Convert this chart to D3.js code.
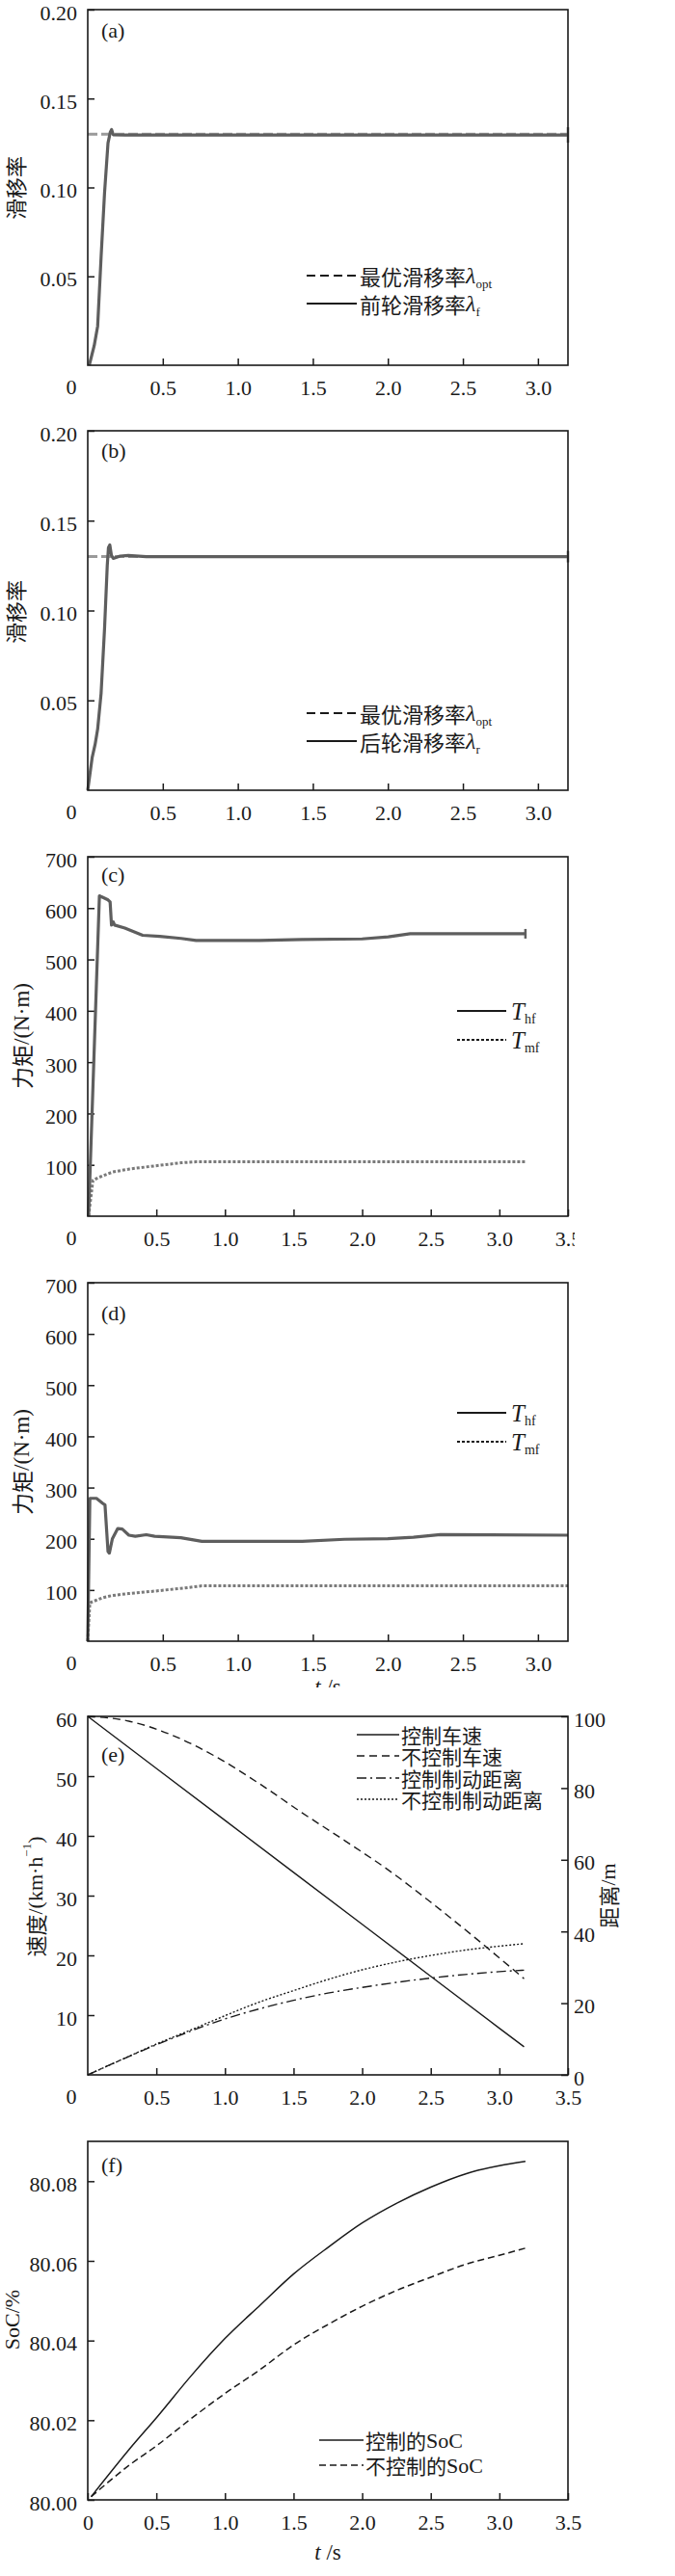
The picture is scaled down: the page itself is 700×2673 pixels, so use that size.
<!DOCTYPE html>
<html><head><meta charset="utf-8">
<script src="https://cdn.jsdelivr.net/npm/d3@7/dist/d3.min.js"></script>
<style>
body{margin:0;background:#fff;}
svg text{font-family:"Liberation Serif","Times New Roman",serif;fill:#1a1a1a;}
.cjk{font-family:"Noto Sans CJK SC","Noto Sans CJK JP",sans-serif;}
</style></head><body>
<svg id="chart" width="700" height="2673"></svg>
<script>
// ---------- data ----------
const optimalSlip = 0.13;
const slipTimeA = [0.01, 0.043, 0.066, 0.089, 0.112, 0.135, 0.150, 0.159, 0.170, 0.25, 0.5, 1.0, 1.5, 2.0, 2.5, 3.0, 3.2];
const slipFront = [0, 0.011, 0.022, 0.061, 0.097, 0.125, 0.131, 0.1326, 0.1296, 0.1295, 0.1295, 0.1295, 0.1295, 0.1295, 0.1295, 0.1295, 0.1295];
const slipTimeB = [0, 0.029, 0.049, 0.066, 0.089, 0.112, 0.13, 0.138, 0.147, 0.158, 0.17, 0.216, 0.27, 0.39, 1.0, 2.0, 3.0, 3.2];
const slipRear = [0, 0.018, 0.0255, 0.034, 0.054, 0.090, 0.125, 0.135, 0.1365, 0.1306, 0.129, 0.1303, 0.1306, 0.1300, 0.130, 0.130, 0.130, 0.130];

const torqueTimeC = [0.006, 0.085, 0.10, 0.148, 0.163, 0.173, 0.186, 0.195, 0.27, 0.40, 0.525, 0.68, 0.79, 1.25, 1.56, 2.0, 2.19, 2.35, 2.82, 3.19];
const hydraulicC = [0, 624, 622, 616, 612, 567, 573, 567, 561, 547, 545, 541, 537, 537, 539, 540, 544, 550, 550, 550];
const motorTimeC = [0.006, 0.038, 0.085, 0.18, 0.305, 0.49, 0.68, 0.79, 1.5, 2.5, 3.19];
const motorC = [0, 70, 76, 86, 92, 98, 104, 106, 106, 106, 106];

const torqueTimeD = [0, 0.014, 0.058, 0.10, 0.115, 0.135, 0.144, 0.164, 0.20, 0.23, 0.274, 0.317, 0.39, 0.446, 0.62, 0.76, 1.43, 1.71, 2.0, 2.17, 2.35, 3.2];
const hydraulicD = [0, 279, 279, 269, 266, 175, 172, 200, 220, 219, 207, 205, 208, 205, 202, 195, 195, 199, 200, 203, 208, 207];
const motorTimeD = [0, 0.014, 0.1, 0.158, 0.27, 0.42, 0.62, 0.76, 1.5, 2.5, 3.2];
const motorD = [0, 75, 85, 89, 93, 97, 103, 108, 108, 108, 108];

const speedTimeC = [0, 0.5, 1.0, 1.5, 2.0, 2.5, 3.0, 3.18];
const speedCtrl = [60, 51.3, 42.6, 33.9, 25.2, 16.5, 7.8, 4.7];
const speedTimeU = [0, 0.3, 0.62, 0.93, 1.25, 1.56, 1.88, 2.19, 2.5, 2.82, 3.18];
const speedUnctrl = [60, 59.2, 56.8, 53.3, 48.75, 43.9, 39.1, 34.3, 28.9, 23.0, 16.1];
const distTime = [0, 0.25, 0.5, 0.75, 1.0, 1.25, 1.5, 1.75, 2.0, 2.25, 2.5, 2.75, 3.0, 3.18];
const distCtrl = [0, 4.3, 8.4, 12.2, 15.6, 18.4, 20.8, 22.8, 24.4, 25.8, 27.0, 28.0, 28.8, 29.2];
const distUnctrl = [0, 4.3, 8.6, 12.5, 16.5, 20.3, 23.5, 26.6, 29.3, 31.5, 33.3, 34.8, 35.9, 36.6];

const socTime = [0.025, 0.31, 0.51, 0.75, 1.0, 1.26, 1.5, 1.76, 2.0, 2.26, 2.5, 2.76, 3.0, 3.19];
const socCtrl = [80.0008, 80.013, 80.021, 80.031, 80.0405, 80.049, 80.0567, 80.0636, 80.0695, 80.0746, 80.0785, 80.0819, 80.0839, 80.0850];
const socUnctrl = [80.0008, 80.0089, 80.0138, 80.0203, 80.0267, 80.0328, 80.0389, 80.0442, 80.0486, 80.0527, 80.0559, 80.0592, 80.0614, 80.0632];

const slipTicksY = [0.05, 0.10, 0.15, 0.20];
const torqueTicksY = [100, 200, 300, 400, 500, 600, 700];
const speedTicksY = [10, 20, 30, 40, 50, 60];
const distTicksY = [0, 20, 40, 60, 80, 100];
const socTicksY = [80.00, 80.02, 80.04, 80.06, 80.08];
const timeTicks32 = [0.5, 1.0, 1.5, 2.0, 2.5, 3.0];
const timeTicks35 = [0.5, 1.0, 1.5, 2.0, 2.5, 3.0, 3.5];
const timeTicksF = [0, 0.5, 1.0, 1.5, 2.0, 2.5, 3.0, 3.5];

// ---------- drawing ----------
const svg = d3.select("#chart");
const L = 91, R = 589;
const INK = "#1a1a1a", CURVE = "#5e5e5e";
const SERIF = '"Liberation Serif","Times New Roman",serif';
const CJK = '"Noto Sans CJK SC","Noto Sans CJK JP",sans-serif';
const defs = svg.append("defs");

function makePanel(o) {
  const g = svg.append("g");
  const bottom = o.top + o.h;
  const x = d3.scaleLinear().domain(o.xDomain).range([L, R]);
  const y = d3.scaleLinear().domain(o.yDomain).range([bottom, o.top]);

  const gx = g.append("g").attr("transform", `translate(0,${bottom})`)
    .call(d3.axisBottom(x).tickValues(o.xTicks).tickSize(-7).tickPadding(15)
      .tickFormat(o.xFmt || d3.format(".1f")));
  if (o.clipX) {
    const id = "clip" + o.name;
    defs.append("clipPath").attr("id", id).append("rect")
      .attr("x", 0).attr("y", -20).attr("width", o.clipX).attr("height", 80);
    gx.attr("clip-path", `url(#${id})`);
  }
  const gy = g.append("g").attr("transform", `translate(${L},0)`)
    .call(d3.axisLeft(y).tickValues(o.yTicks).tickSize(-7).tickPadding(11).tickFormat(o.yFmt));
  [gx, gy].forEach(a => {
    a.select(".domain").remove();
    a.attr("font-family", SERIF).attr("font-size", 22).attr("color", INK);
    a.selectAll("line").attr("stroke-width", 1.5);
    a.selectAll("text").attr("fill", INK);
  });
  gy.selectAll("text").attr("dy", "0.46em");
  if (o.zeroLabel !== false) {
    g.append("text").attr("x", 74).attr("y", bottom + 22).attr("text-anchor", "middle")
      .attr("dominant-baseline", "central").attr("font-size", 22).text("0");
  }
  g.append("text").attr("x", 105).attr("y", o.labelY).attr("dominant-baseline", "central")
    .attr("font-size", 22).text(o.letter);
  return {g, x, y, bottom};
}

function frame(p, top, h) {
  p.g.append("rect").attr("x", L).attr("y", top).attr("width", R - L).attr("height", h)
    .attr("fill", "none").attr("stroke", INK).attr("stroke-width", 1.6);
}

function curve(p, xs, ys, style, yScale) {
  const ysc = yScale || p.y;
  const line = d3.line().x(d => p.x(d[0])).y(d => ysc(d[1])).curve(style.curve || d3.curveLinear);
  p.g.append("path").datum(d3.zip(xs, ys)).attr("d", line)
    .attr("fill", "none").attr("stroke", style.color).attr("stroke-width", style.width)
    .attr("stroke-dasharray", style.dash || null).attr("stroke-linejoin", "round");
}

function endMark(p, xs, ys, half) {
  const xv = xs[xs.length - 1], yv = ys[ys.length - 1];
  p.g.append("line").attr("x1", p.x(xv)).attr("x2", p.x(xv))
    .attr("y1", p.y(yv) - half).attr("y2", p.y(yv) + half)
    .attr("stroke", CURVE).attr("stroke-width", 2.5);
}

function legendLine(g, x1, x2, yy, dash, w) {
  g.append("line").attr("x1", x1).attr("x2", x2).attr("y1", yy).attr("y2", yy)
    .attr("stroke", INK).attr("stroke-width", w || 2.2).attr("stroke-dasharray", dash || null);
}

function lambdaText(g, x, yy, cjk, sub) {
  const t = g.append("text").attr("x", x).attr("y", yy).attr("dominant-baseline", "central");
  t.append("tspan").attr("font-family", CJK).attr("font-size", 22).text(cjk);
  t.append("tspan").attr("font-family", SERIF).attr("font-style", "italic").attr("font-size", 24).text("λ");
  t.append("tspan").attr("font-family", SERIF).attr("font-size", 13).attr("dy", 8).text(sub);
}

function torqueLegend(g, x1, x2, y1, y2) {
  legendLine(g, x1, x2, y1, null, 2.2);
  legendLine(g, x1, x2, y2, "3,2", 2.2);
  [[y1, "hf"], [y2, "mf"]].forEach(([yy, s]) => {
    const t = g.append("text").attr("x", x2 + 5).attr("y", yy).attr("dominant-baseline", "central");
    t.append("tspan").attr("font-style", "italic").attr("font-size", 25).text("T");
    t.append("tspan").attr("font-size", 14).attr("dy", 8).text(s);
  });
}

function rotLabel(g, cx, cy, parts) {
  const t = g.append("text").attr("transform", `translate(${cx},${cy}) rotate(-90)`)
    .attr("text-anchor", "middle").attr("dominant-baseline", "central");
  parts.forEach(pt => {
    const s = t.append("tspan").attr("font-family", pt.cjk ? CJK : SERIF).attr("font-size", pt.size || 22).text(pt.t);
    if (pt.dy) s.attr("dy", pt.dy);
  });
  return t;
}

// ----- (a) -----
{
  const top = 10, h = 369;
  const p = makePanel({name: "a", top, h, xDomain: [0, 3.2], yDomain: [0, 0.20], xTicks: timeTicks32,
    yTicks: slipTicksY, yFmt: d3.format(".2f"), letter: "(a)", labelY: 31});
  curve(p, [0, 3.2], [optimalSlip, optimalSlip], {color: "#9a9a9a", width: 3, dash: "10,4"});
  curve(p, slipTimeA, slipFront, {color: CURVE, width: 3.2});
  endMark(p, slipTimeA, slipFront, 8);
  frame(p, top, h);
  legendLine(p.g, 318, 370, 286, "9,5");
  lambdaText(p.g, 373, 286, "最优滑移率", "opt");
  legendLine(p.g, 318, 370, 315, null);
  lambdaText(p.g, 373, 315, "前轮滑移率", "f");
  rotLabel(p.g, 15, 195, [{t: "滑移率", cjk: true, size: 22}]);
}
// ----- (b) -----
{
  const top = 447, h = 373;
  const p = makePanel({name: "b", top, h, xDomain: [0, 3.2], yDomain: [0, 0.20], xTicks: timeTicks32,
    yTicks: slipTicksY, yFmt: d3.format(".2f"), letter: "(b)", labelY: 467});
  curve(p, [0, 3.2], [optimalSlip, optimalSlip], {color: "#9a9a9a", width: 3, dash: "10,4"});
  curve(p, slipTimeB, slipRear, {color: CURVE, width: 3.2});
  endMark(p, slipTimeB, slipRear, 6);
  frame(p, top, h);
  legendLine(p.g, 318, 370, 740, "9,5");
  lambdaText(p.g, 373, 740, "最优滑移率", "opt");
  legendLine(p.g, 318, 370, 769, null);
  lambdaText(p.g, 373, 769, "后轮滑移率", "r");
  rotLabel(p.g, 15, 635, [{t: "滑移率", cjk: true, size: 22}]);
}
// ----- (c) -----
{
  const top = 889, h = 373;
  const p = makePanel({name: "c", top, h, xDomain: [0, 3.5], yDomain: [0, 700], xTicks: timeTicks35,
    yTicks: torqueTicksY, yFmt: d3.format("d"), letter: "(c)", labelY: 907, clipX: 596});
  curve(p, motorTimeC, motorC, {color: "#7a7a7a", width: 3, dash: "3,2"});
  curve(p, torqueTimeC, hydraulicC, {color: CURVE, width: 3.2});
  endMark(p, torqueTimeC, hydraulicC, 5);
  frame(p, top, h);
  torqueLegend(p.g, 474, 525, 1049, 1079);
  rotLabel(p.g, 22, 1075, [{t: "力矩", cjk: true, size: 23}, {t: "/(N·m)", size: 23}]);
}
// ----- (d) -----
{
  const top = 1331, h = 372;
  const p = makePanel({name: "d", top, h, xDomain: [0, 3.2], yDomain: [0, 700], xTicks: timeTicks32,
    yTicks: torqueTicksY, yFmt: d3.format("d"), letter: "(d)", labelY: 1362});
  curve(p, motorTimeD, motorD, {color: "#7a7a7a", width: 3, dash: "3,2"});
  curve(p, torqueTimeD, hydraulicD, {color: CURVE, width: 3.2});
  frame(p, top, h);
  torqueLegend(p.g, 474, 525, 1466, 1496);
  rotLabel(p.g, 22, 1517, [{t: "力矩", cjk: true, size: 23}, {t: "/(N·m)", size: 23}]);
  defs.append("clipPath").attr("id", "clipTd").append("rect").attr("x", 0).attr("y", 1700).attr("width", 700).attr("height", 51);
  const t = p.g.append("text").attr("x", 340).attr("y", 1758).attr("text-anchor", "middle")
    .attr("font-size", 23).attr("clip-path", "url(#clipTd)");
  t.append("tspan").attr("font-style", "italic").text("t");
  t.append("tspan").text(" /s");
}
// ----- (e) -----
{
  const top = 1781, h = 372;
  const p = makePanel({name: "e", top, h, xDomain: [0, 3.5], yDomain: [0, 60], xTicks: timeTicks35,
    yTicks: speedTicksY, yFmt: d3.format("d"), letter: "(e)", labelY: 1820});
  const y2 = d3.scaleLinear().domain([0, 100]).range([p.bottom, top]);
  const gr = p.g.append("g").attr("transform", `translate(${R},0)`)
    .call(d3.axisRight(y2).tickValues(distTicksY).tickSize(-7).tickPadding(6).tickFormat(d3.format("d")));
  gr.select(".domain").remove();
  gr.attr("font-family", SERIF).attr("font-size", 22).attr("color", INK);
  gr.selectAll("line").attr("stroke-width", 1.5);
  gr.selectAll("text").attr("dy", "0.46em");
  const thin = 1.4;
  curve(p, speedTimeC, speedCtrl, {color: INK, width: thin});
  curve(p, speedTimeU, speedUnctrl, {color: INK, width: thin, dash: "8,5", curve: d3.curveMonotoneX});
  curve(p, distTime, distCtrl, {color: INK, width: thin, dash: "10,4,2,4", curve: d3.curveMonotoneX}, y2);
  curve(p, distTime, distUnctrl, {color: INK, width: thin, dash: "2,2", curve: d3.curveMonotoneX}, y2);
  frame(p, top, h);
  const rows = [[1800, null, "控制车速"], [1822, "8,5", "不控制车速"], [1845, "10,4,2,4", "控制制动距离"], [1867, "2,2", "不控制制动距离"]];
  rows.forEach(([yy, dash, label]) => {
    legendLine(p.g, 370, 414, yy, dash, 1.4);
    p.g.append("text").attr("class", "cjk").attr("x", 416).attr("y", yy).attr("dominant-baseline", "central")
      .attr("font-family", CJK).attr("font-size", 21).text(label);
  });
  const tl = rotLabel(p.g, 36, 1968, [{t: "速度", cjk: true, size: 22}, {t: "/(km·h", size: 22}]);
  tl.append("tspan").attr("font-family", SERIF).attr("font-size", 13).attr("dy", -9).text("−1");
  tl.append("tspan").attr("font-family", SERIF).attr("font-size", 22).attr("dy", 9).text(")");
  rotLabel(p.g, 630, 1967, [{t: "距离", cjk: true, size: 22}, {t: "/m", size: 22}]);
}
// ----- (f) -----
{
  const top = 2222, h = 372;
  const p = makePanel({name: "f", top, h, xDomain: [0, 3.5], yDomain: [80.00, 80.09], xTicks: timeTicksF,
    xFmt: d => d === 0 ? "0" : d3.format(".1f")(d),
    yTicks: socTicksY, yFmt: d3.format(".2f"), letter: "(f)", labelY: 2246, zeroLabel: false});
  curve(p, socTime, socCtrl, {color: INK, width: 1.5, curve: d3.curveMonotoneX});
  curve(p, socTime, socUnctrl, {color: INK, width: 1.5, dash: "7,4", curve: d3.curveMonotoneX});
  frame(p, top, h);
  [[2532, null, "控制的"], [2558, "7,4", "不控制的"]].forEach(([yy, dash, label]) => {
    legendLine(p.g, 331, 377, yy, dash, 1.5);
    const t = p.g.append("text").attr("x", 379).attr("y", yy).attr("dominant-baseline", "central");
    t.append("tspan").attr("font-family", CJK).attr("font-size", 21).text(label);
    t.append("tspan").attr("font-family", SERIF).attr("font-size", 22).text("SoC");
  });
  rotLabel(p.g, 12, 2407, [{t: "SoC/%", size: 22}]);
  const t = p.g.append("text").attr("x", 340).attr("y", 2656).attr("text-anchor", "middle").attr("font-size", 23);
  t.append("tspan").attr("font-style", "italic").text("t");
  t.append("tspan").text(" /s");
}
</script>
</body></html>
